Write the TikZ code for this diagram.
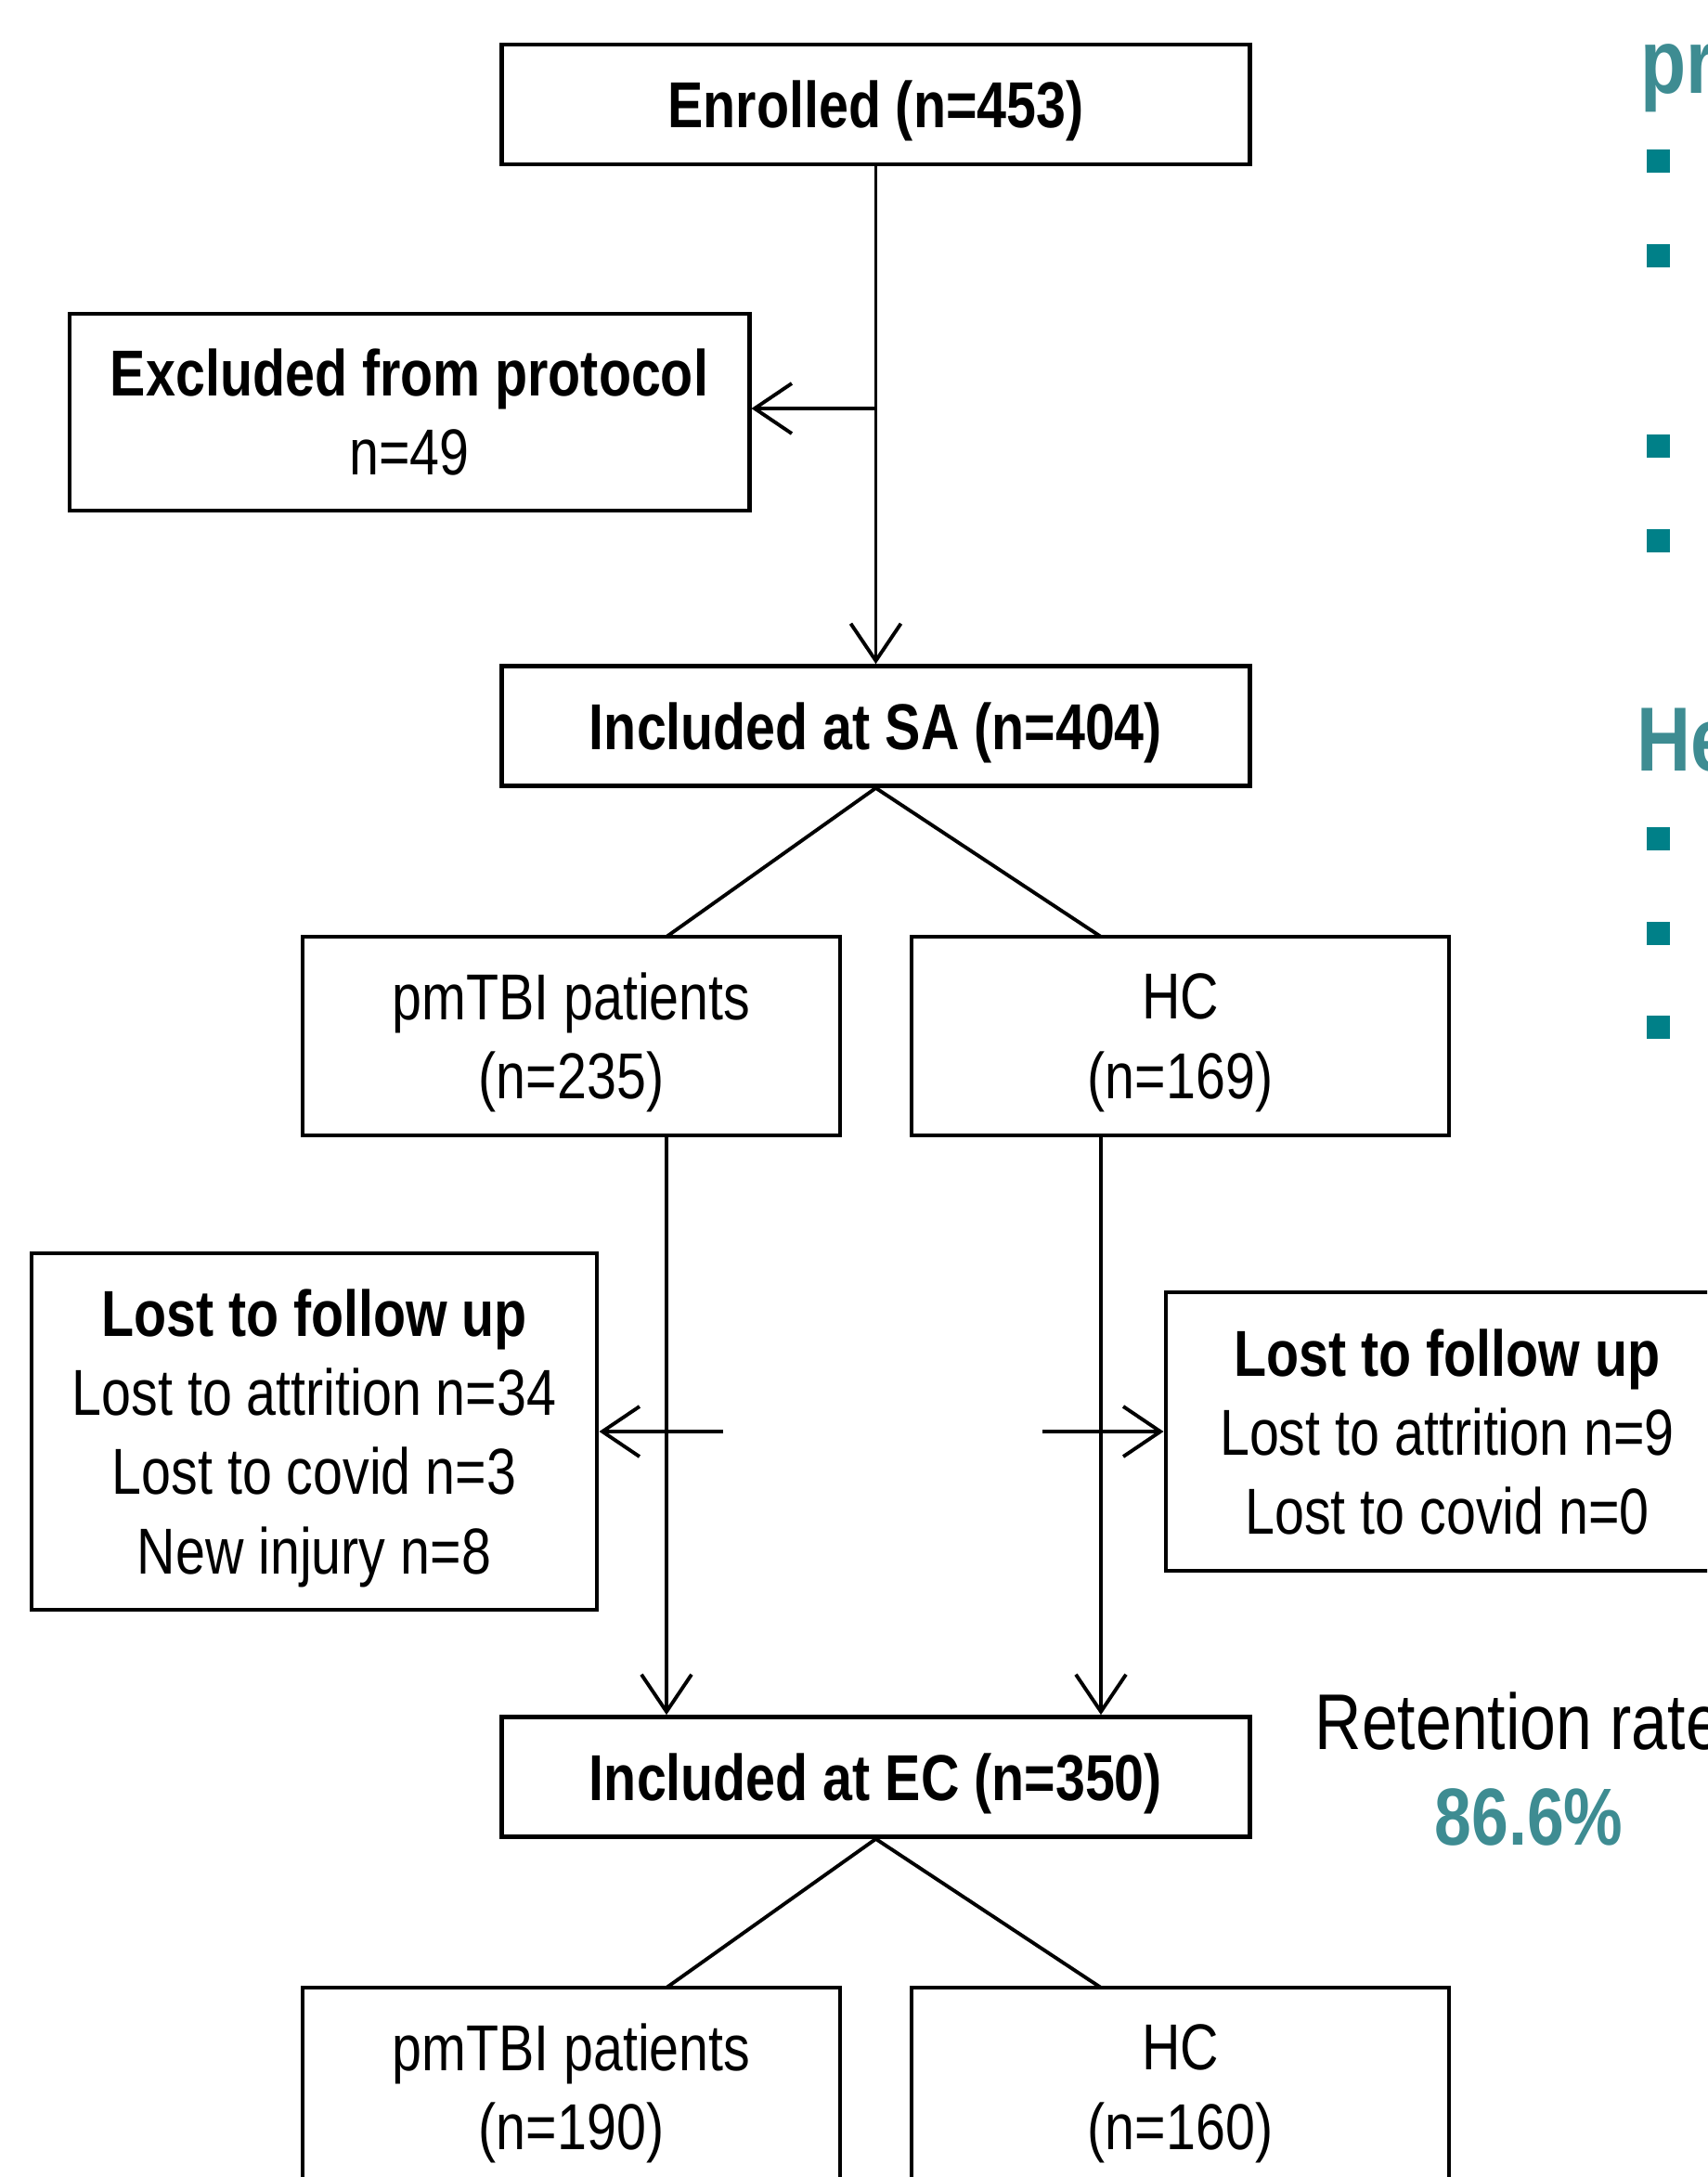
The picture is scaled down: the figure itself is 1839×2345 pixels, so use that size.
\documentclass[tikz,border=0pt]{standalone}
\usepackage{fontspec}
\setmainfont{Liberation Sans}
\newfontfamily\narrowfont[FakeStretch=0.82]{Liberation Sans}
\usetikzlibrary{arrows.meta}
\definecolor{tealtext}{RGB}{62,140,146}
\definecolor{tealbullet}{RGB}{0,128,136}
\tikzset{
  box/.style={draw, line width=1.3pt, inner sep=0pt, align=center, text depth=0pt,
    font=\narrowfont\fontsize{19.9}{24.2}\selectfont},
  bigbox/.style={box, minimum width=8.05cm, minimum height=1.29cm},
  groupbox/.style={box, minimum width=5.79cm, minimum height=2.14cm},
  link/.style={line width=1.1pt},
}
\begin{document}
\begin{tikzpicture}[x=0.01cm, y=-0.01cm, >={Straight Barb[length=0.4cm, width=0.54cm]}]
        \useasboundingbox (0,0) rectangle (1839,2345);
        \clip (0,0) rectangle (1839,2345);

        \node[bigbox] (enrolled) at (943.5,112.5) {\textbf{Enrolled (n=453)}};
        \node[box, minimum width=7.32cm, minimum height=2.12cm] (excluded) at (441,444) {\textbf{Excluded from protocol}\\n=49};
        \node[bigbox] (sa) at (943.5,782) {\textbf{Included at SA (n=404)}};
        \node[groupbox] (pmtbi) at (615.5,1116) {pmTBI patients\\(n=235)};
        \node[groupbox] (hc) at (1271.5,1116) {HC\\(n=169)};
        \node[box, minimum width=6.09cm, minimum height=3.84cm] (lostl) at (338.5,1542) {\textbf{Lost to follow up}\\Lost to attrition n=34\\Lost to covid n=3\\New injury n=8};
        \node[box, minimum width=6.06cm, minimum height=3.0cm] (lostr) at (1559,1542) {\textbf{Lost to follow up}\\Lost to attrition n=9\\Lost to covid n=0};
        \node[bigbox] (ec) at (943.5,1914) {\textbf{Included at EC (n=350)}};
        \node[groupbox] (pmtbiend) at (615.5,2248) {pmTBI patients\\(n=190)};
        \node[groupbox] (hcend) at (1271.5,2248) {HC\\(n=160)};

        \coordinate (exsplit) at (943.5,440);
        \coordinate (ptop) at (718,1009);
        \coordinate (htop) at (1186,1009);
        \coordinate (lstart) at (779,1542);
        \coordinate (rstart) at (1123,1542);
        \coordinate (ptopend) at (718,2141);
        \coordinate (htopend) at (1186,2141);

        \draw[link, ->] (enrolled) -- (sa);
        \draw[link, ->] (exsplit) -- (exsplit -| excluded.east);
        \draw[link] (sa.south) -- (ptop);
        \draw[link] (sa.south) -- (htop);
        \draw[link, ->] (ptop |- pmtbi.south) -- (ptop |- ec.north);
        \draw[link, ->] (htop |- hc.south) -- (htop |- ec.north);
        \draw[link, ->] (lstart) -- (lstart -| lostl.east);
        \draw[link, ->] (rstart) -- (rstart -| lostr.west);
        \draw[link] (ec.south) -- (ptopend);
        \draw[link] (ec.south) -- (htopend);

        \node[font=\narrowfont\fontsize{24.2}{28}\selectfont, anchor=base west, inner sep=0pt] (retlabel) at (1416,1884) {Retention rate};
        \node[font=\narrowfont\bfseries\fontsize{24.8}{28}\selectfont, text=tealtext, anchor=base, inner sep=0pt] (retvalue) at (1647,1987) {86.6\%};

        %headings of the side text, cut at the edge
        \node[font=\narrowfont\bfseries\fontsize{27.9}{30}\selectfont, text=tealtext, anchor=base west, inner sep=0pt] (prhead) at (1767,100) {pr};
        \node[font=\narrowfont\bfseries\fontsize{27.9}{30}\selectfont, text=tealtext, anchor=base west, inner sep=0pt] (hehead) at (1763,830) {He};
        \foreach \y in {173,275,480,582,903,1005,1106}
          \fill[tealbullet] (1774,\y-12.5) rectangle ++(25,25);
\end{tikzpicture}
\end{document}
